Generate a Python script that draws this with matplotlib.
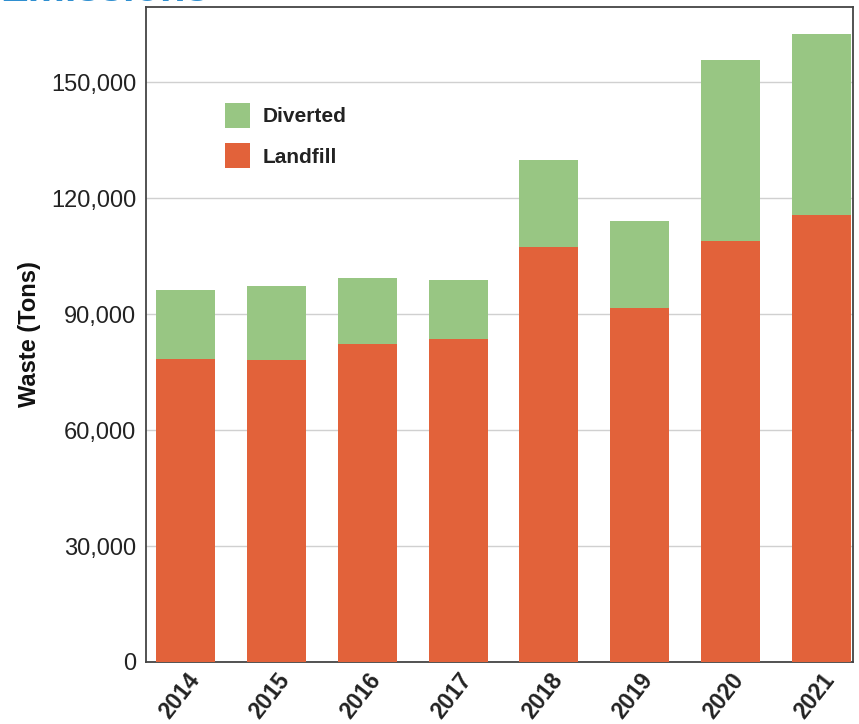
import matplotlib
matplotlib.use("Agg")
import matplotlib.pyplot as plt
from matplotlib.patches import Patch
from matplotlib.ticker import FuncFormatter

years = ["2014", "2015", "2016", "2017", "2018", "2019", "2020", "2021"]
landfill = [78400, 78100, 82200, 83500, 107300, 91500, 108900, 115600]
diverted = [17800, 19100, 17100, 15300, 22500, 22500, 46800, 46800]
yticks = [0, 30000, 60000, 90000, 120000, 150000]

GREEN = "#98c683"
ORANGE = "#e2623a"

plt.rcParams["font.family"] = ["Liberation Sans", "DejaVu Sans"]

fig = plt.figure(figsize=(8.59, 7.24), dpi=100)
ax = fig.add_axes([146 / 859, 1 - 662 / 724, (853 - 146) / 859, (662 - 7) / 724])

x = list(range(len(years)))
ax.bar(x, landfill, width=0.65, color=ORANGE, zorder=3)
ax.bar(x, diverted, width=0.65, bottom=landfill, color=GREEN, zorder=3)

ax.set_xlim(-0.44, 7.35)
ax.set_ylim(0, 169400)
ax.set_yticks(yticks)
ax.yaxis.set_major_formatter(FuncFormatter(lambda v, p: f"{int(v):,}"))
ax.set_xticks(x)
ax.set_xticklabels(years, rotation=52, ha="right", rotation_mode="anchor",
                   fontsize=16.5, fontweight="bold", color="#222222")
ax.tick_params(axis="x", length=0, pad=5)
ax.tick_params(axis="y", length=0, pad=7, labelsize=17, labelcolor="#222222")
ax.grid(axis="y", color="#d0d0d0", linewidth=1, zorder=0)
for s in ax.spines.values():
    s.set_color("#444444")
    s.set_linewidth(1.3)

ax.set_ylabel("Waste (Tons)", fontsize=17, fontweight="bold", color="#111111", labelpad=7)

handles = [Patch(facecolor=GREEN, label="Diverted"), Patch(facecolor=ORANGE, label="Landfill")]
leg = ax.legend(handles=handles, loc="upper left", bbox_to_anchor=(0.085, 0.882),
                frameon=False, prop={"weight": "bold", "size": 15},
                handlelength=1.2, handleheight=1.45, labelspacing=0.75, handletextpad=0.6)
for t in leg.get_texts():
    t.set_color("#222222")

# heading above the chart, mostly outside the canvas
fig.text(0.0, 1 - 1 / 724, "Emissions", color="#2f8fd0", fontsize=30, fontweight="bold",
         va="baseline", ha="left")

fig.savefig("out.png", dpi=100)
